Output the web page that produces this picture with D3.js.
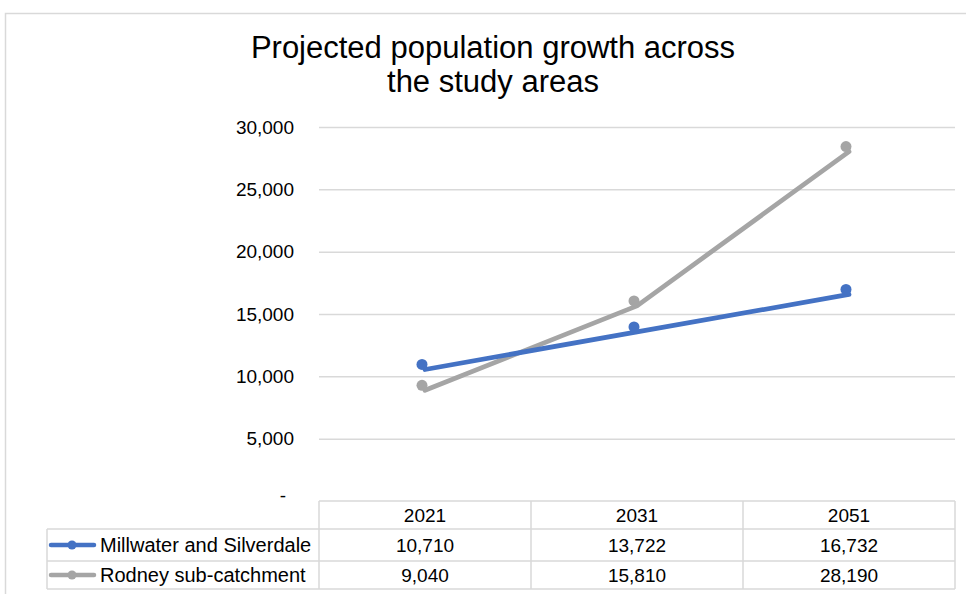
<!DOCTYPE html>
<html>
<head>
<meta charset="utf-8">
<script src="https://cdn.jsdelivr.net/npm/d3@7"></script>
<style>
  html, body { margin: 0; padding: 0; background: #ffffff; }
  svg { display: block; font-family: "Liberation Sans", Arial, sans-serif; }
</style>
</head>
<body>
<svg id="chart" width="966" height="594"></svg>
<script>
// ---- data ----
const titleLines = ["Projected population growth across", "the study areas"];
const categories = ["2021", "2031", "2051"];
const seriesNames = ["Millwater and Silverdale", "Rodney sub-catchment"];
const millwater = [10710, 13722, 16732];
const rodney = [9040, 15810, 28190];
const yTicks = [0, 5000, 10000, 15000, 20000, 25000, 30000];
const colors = ["#4472C4", "#A5A5A5"];

const series = [
  { name: seriesNames[0], values: millwater, color: colors[0] },
  { name: seriesNames[1], values: rodney, color: colors[1] }
];

const svg = d3.select("#chart");
const W = 966, H = 594;
const plot = { left: 319, right: 955, top: 127, bottom: 501 };
const grid = "#d9d9d9";

// outer chart frame
svg.append("rect")
  .attr("x", 5.5).attr("y", 13.5)
  .attr("width", W + 10).attr("height", H + 10)
  .attr("fill", "#fff").attr("stroke", grid).attr("stroke-width", 1.5);

// title
const title = svg.append("text")
  .attr("text-anchor", "middle")
  .attr("font-size", 31)
  .attr("fill", "#000");
titleLines.forEach((t, i) => {
  title.append("tspan").attr("x", 493).attr("y", 58 + i * 34).text(t);
});

// scales
const x = d3.scaleBand().domain(categories).range([plot.left, plot.right]);
const y = d3.scaleLinear().domain([0, 30000]).range([plot.bottom, plot.top]);

// gridlines
const gridG = svg.append("g").attr("transform", `translate(${plot.left},0)`)
  .call(d3.axisLeft(y).tickValues(yTicks.filter(d => d > 0))
    .tickSize(-(plot.right - plot.left)).tickFormat(""));
gridG.select(".domain").remove();
gridG.selectAll(".tick line").attr("stroke", grid).attr("stroke-width", 1.5);

// y tick labels
const fmt = d3.format(",");
const yAxisG = svg.append("g").attr("transform", `translate(294,0)`)
  .call(d3.axisLeft(y).tickValues(yTicks).tickSize(0).tickPadding(0)
    .tickFormat(d => d === 0 ? "-" : fmt(d)));
yAxisG.select(".domain").remove();
yAxisG.selectAll(".tick text")
  .attr("font-size", 19)
  .attr("font-family", "'Liberation Sans', Arial, sans-serif")
  .attr("fill", "#000");
yAxisG.selectAll(".tick").filter(d => d === 0).select("text")
  .attr("dx", -8).attr("dy", "0.05em");

// lines
const line = d3.line()
  .x((d, i) => x(categories[i]) + x.bandwidth() / 2)
  .y(d => y(d) + 2);

series.slice().reverse().forEach(s => {
  svg.append("path")
    .datum(s.values)
    .attr("d", line)
    .attr("fill", "none")
    .attr("stroke", s.color)
    .attr("stroke-width", 4.75)
    .attr("stroke-linecap", "round")
    .attr("stroke-linejoin", "round");
  svg.append("g").selectAll("circle")
    .data(s.values)
    .join("circle")
    .attr("cx", (d, i) => x(categories[i]) + x.bandwidth() / 2 - 3)
    .attr("cy", d => y(d) - 3)
    .attr("r", 5.5)
    .attr("fill", s.color);
});

// data table
const rowTops = [501, 529, 561, 589];
const tableLeft = 47;
const tg = svg.append("g").attr("stroke", grid).attr("stroke-width", 1.5).attr("fill", "none");
tg.append("line").attr("x1", plot.left).attr("x2", plot.right).attr("y1", rowTops[0]).attr("y2", rowTops[0]);
[1, 2, 3].forEach(r => {
  tg.append("line").attr("x1", tableLeft).attr("x2", plot.right).attr("y1", rowTops[r]).attr("y2", rowTops[r]);
});
const colEdges = [plot.left].concat(categories.map(c => x(c) + x.bandwidth()));
colEdges.forEach(cx => {
  tg.append("line").attr("x1", cx).attr("x2", cx).attr("y1", rowTops[0]).attr("y2", rowTops[3]);
});
tg.append("line").attr("x1", tableLeft).attr("x2", tableLeft).attr("y1", rowTops[1]).attr("y2", rowTops[3]);

// header text
svg.append("g").selectAll("text")
  .data(categories)
  .join("text")
  .attr("x", d => x(d) + x.bandwidth() / 2)
  .attr("y", (rowTops[0] + rowTops[1]) / 2)
  .attr("dy", "0.35em")
  .attr("text-anchor", "middle")
  .attr("font-size", 19)
  .attr("fill", "#000")
  .text(d => d);

// body rows
series.forEach((s, r) => {
  const cy = (rowTops[r + 1] + rowTops[r + 2]) / 2;
  const g = svg.append("g");
  g.append("line")
    .attr("x1", 51).attr("x2", 94).attr("y1", cy).attr("y2", cy)
    .attr("stroke", s.color).attr("stroke-width", 4.5).attr("stroke-linecap", "round");
  g.append("circle").attr("cx", 72).attr("cy", cy).attr("r", 4.5).attr("fill", s.color);
  g.append("text")
    .attr("x", 100).attr("y", cy).attr("dy", "0.35em")
    .attr("font-size", 20).attr("fill", "#000")
    .text(s.name);
  g.selectAll("text.val")
    .data(s.values)
    .join("text")
    .attr("class", "val")
    .attr("x", (d, i) => x(categories[i]) + x.bandwidth() / 2)
    .attr("y", cy).attr("dy", "0.35em")
    .attr("text-anchor", "middle")
    .attr("font-size", 19).attr("fill", "#000")
    .text(d => fmt(d));
});
</script>
</body>
</html>
